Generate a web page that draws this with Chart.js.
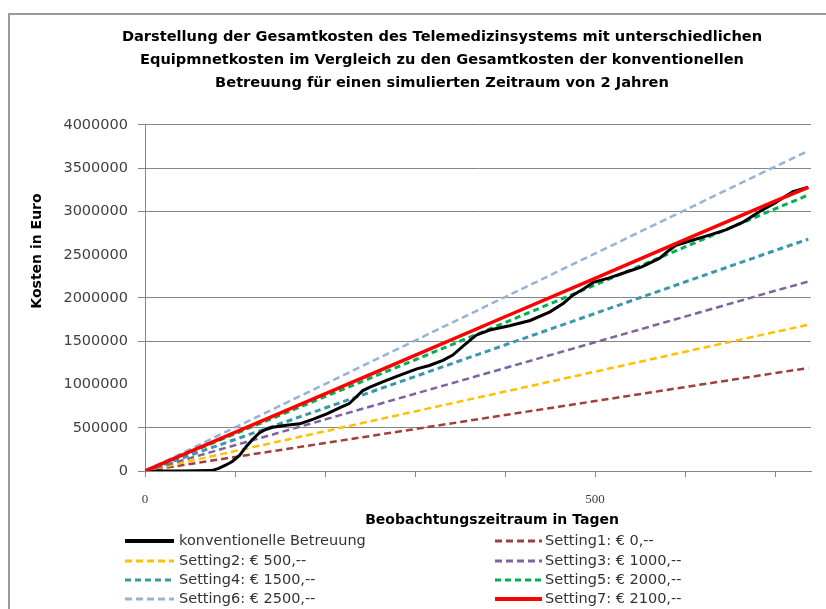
<!DOCTYPE html>
<html>
<head>
<meta charset="utf-8">
<script src="https://cdn.jsdelivr.net/npm/chart.js@4.4.1/dist/chart.umd.min.js"></script>
<style>
  html, body { margin: 0; padding: 0; background: #ffffff; }
  #wrap { width: 826px; height: 609px; }
</style>
</head>
<body>
<div id="wrap"><canvas id="c" width="826" height="609"></canvas></div>
<script>
// ---- data ----
const titleLines = [
  'Darstellung der Gesamtkosten des Telemedizinsystems mit unterschiedlichen',
  'Equipmnetkosten im Vergleich zu den Gesamtkosten der konventionellen',
  'Betreuung für einen simulierten Zeitraum von 2 Jahren'
];
const xAxisTitle = 'Beobachtungszeitraum in Tagen';
const yAxisTitle = 'Kosten in Euro';
const xLabeledTicks = [0, 500];

const seriesNames = [
  'konventionelle Betreuung',
  'Setting1: € 0,--',
  'Setting2: € 500,--',
  'Setting3: € 1000,--',
  'Setting4: € 1500,--',
  'Setting5: € 2000,--',
  'Setting6: € 2500,--',
  'Setting7: € 2100,--'
];

// conventional care (day, cost in Euro)
const convDays  = [0, 40, 74, 82, 90, 97, 105, 113, 120, 127, 134, 142, 157, 172, 187, 202, 216, 227, 234, 242, 250, 264, 279, 302, 316, 331, 342, 354, 368, 383, 405, 428, 450, 465, 475, 488, 498, 515, 535, 552, 572, 582, 590, 609, 628, 646, 665, 683, 700, 720, 737];
const convCosts = [0, 0, 5000, 30000, 70000, 110000, 180000, 290000, 370000, 440000, 480000, 505000, 530000, 545000, 600000, 660000, 730000, 780000, 850000, 930000, 970000, 1030000, 1090000, 1180000, 1220000, 1280000, 1340000, 1450000, 1570000, 1630000, 1680000, 1740000, 1840000, 1940000, 2030000, 2110000, 2180000, 2230000, 2300000, 2360000, 2460000, 2550000, 2610000, 2670000, 2730000, 2790000, 2880000, 3000000, 3100000, 3230000, 3280000];

// telemedicine settings (day, cost in Euro)
const settingDays = [0, 100, 200, 300, 400, 500, 600, 700, 737];
const setting1 = [0, 162000, 323000, 485000, 647000, 808000, 970000, 1132000, 1190000];
const setting2 = [0, 230000, 459000, 689000, 918000, 1148000, 1378000, 1607000, 1690000];
const setting3 = [0, 298000, 595000, 893000, 1190000, 1488000, 1785000, 2083000, 2190000];
const setting4 = [0, 364000, 728000, 1092000, 1457000, 1821000, 2185000, 2549000, 2680000];
const setting5 = [0, 430000, 860000, 1285000, 1715000, 2150000, 2590000, 3030000, 3190000];
const setting6 = [0, 503000, 1005000, 1508000, 2011000, 2514000, 3016000, 3519000, 3700000];
const setting7 = [0, 446000, 891000, 1337000, 1783000, 2228000, 2674000, 3120000, 3280000];

// ---- build ----
function pts(xs, ys) { return xs.map((x, i) => ({ x: x, y: ys[i] })); }

const seriesData = [
  pts(convDays, convCosts),
  pts(settingDays, setting1), pts(settingDays, setting2), pts(settingDays, setting3),
  pts(settingDays, setting4), pts(settingDays, setting5), pts(settingDays, setting6),
  pts(settingDays, setting7)
];
const styles = [
  { c: '#000000', w: 3,   d: [],     o: 1 },
  { c: '#A0403C', w: 2.5, d: [7, 4], o: 8 },
  { c: '#FFC000', w: 2.5, d: [7, 4], o: 7 },
  { c: '#7F62A0', w: 2.5, d: [7, 4], o: 6 },
  { c: '#3A97AE', w: 3,   d: [6, 4], o: 5 },
  { c: '#00B050', w: 3,   d: [6, 4], o: 2 },
  { c: '#95B3D7', w: 2.5, d: [7, 4], o: 4 },
  { c: '#FF0000', w: 3.5, d: [],     o: 0 }
];

const datasets = seriesNames.map((n, i) => ({
  label: n,
  data: seriesData[i],
  borderColor: styles[i].c,
  backgroundColor: styles[i].c,
  borderWidth: styles[i].w,
  borderDash: styles[i].d,
  order: styles[i].o,
  pointRadius: 0,
  tension: 0,
  fill: false
}));

const FONT = "'DejaVu Sans', sans-serif";
const GRID = '#868686';

const framePlugin = {
  id: 'frame',
  afterLayout(chart) {
    // centre the title over the same span as in the reference
    if (chart.titleBlock) {
      chart.titleBlock.left = 73;
      chart.titleBlock.right = 811;
      chart.titleBlock.width = 811 - 73;
    }
  },
  beforeDraw(chart) {
    const ctx = chart.ctx;
    ctx.save();
    ctx.fillStyle = '#ffffff';
    ctx.fillRect(0, 0, chart.width, chart.height);
    ctx.strokeStyle = '#9a9a9a';
    ctx.lineWidth = 2;
    ctx.strokeRect(9, 14, 1000, 1000);
    ctx.restore();
  }
};

const axisTitlePlugin = {
  id: 'axisTitles',
  afterDraw(chart) {
    const ctx = chart.ctx;
    ctx.save();
    ctx.font = "bold 14px " + FONT;
    ctx.fillStyle = '#000000';
    ctx.textAlign = 'center';
    ctx.textBaseline = 'middle';
    ctx.fillText(xAxisTitle, 492, 520);
    ctx.translate(37, 251);
    ctx.rotate(-Math.PI / 2);
    ctx.fillText(yAxisTitle, 0, 0);
    ctx.restore();
  }
};

const legendPlugin = {
  id: 'twoColLegend',
  afterDraw(chart) {
    const ctx = chart.ctx;
    const cols = [{ x0: 125, x1: 174, tx: 179 }, { x0: 495, x1: 542, tx: 545 }];
    const rowY = [541, 561, 580, 599];
    ctx.save();
    chart.data.datasets.forEach((ds, i) => {
      const col = cols[i % 2];
      const y = rowY[Math.floor(i / 2)];
      ctx.beginPath();
      ctx.strokeStyle = ds.borderColor;
      ctx.lineWidth = ds.borderDash.length ? 3 : 4;
      ctx.setLineDash(ds.borderDash);
      ctx.moveTo(col.x0, y);
      ctx.lineTo(col.x1, y);
      ctx.stroke();
      ctx.setLineDash([]);
      ctx.font = "14.5px " + FONT;
      ctx.fillStyle = '#333333';
      ctx.textAlign = 'left';
      ctx.textBaseline = 'middle';
      ctx.fillText(ds.label, col.tx, y);
    });
    ctx.restore();
  }
};

const hiddenGrid = [1000000, 2500000];

new Chart(document.getElementById('c'), {
  type: 'line',
  data: { datasets: datasets },
  plugins: [framePlugin, axisTitlePlugin, legendPlugin],
  options: {
    responsive: false,
    animation: false,
    devicePixelRatio: 1,
    layout: { padding: { left: 55, right: 15, top: 0, bottom: 80 } },
    plugins: {
      legend: { display: false },
      tooltip: { enabled: false },
      title: {
        display: true,
        text: titleLines,
        color: '#000000',
        font: { family: FONT, size: 14.6, weight: 'bold', lineHeight: 1.575 },
        padding: { top: 25.5, bottom: 30.5 }
      }
    },
    scales: {
      x: {
        type: 'linear',
        min: 0,
        max: 740,
        afterFit(scale) { scale.height = 58; },
        border: { display: true, color: GRID, width: 1 },
        grid: { drawOnChartArea: false, drawTicks: true, tickLength: 6, color: GRID },
        ticks: {
          stepSize: 100,
          autoSkip: false,
          includeBounds: false,
          maxRotation: 0,
          padding: 15,
          color: '#404040',
          font: { family: "'Liberation Serif', serif", size: 13 },
          callback: (v) => xLabeledTicks.includes(v) ? String(v) : ''
        },
        title: { display: false }
      },
      y: {
        type: 'linear',
        min: 0,
        max: 4000000,
        afterFit(scale) { scale.width = 90; },
        border: { display: true, color: GRID, width: 1 },
        grid: {
          drawTicks: true,
          tickLength: 7,
          lineWidth: 1,
          color: (c) => (c.tick && hiddenGrid.includes(c.tick.value)) ? 'rgba(0,0,0,0)' : GRID
        },
        ticks: {
          stepSize: 500000,
          padding: 10,
          color: '#404040',
          font: { family: FONT, size: 14.5 },
          callback: (v) => String(v)
        },
        title: { display: false }
      }
    }
  }
});
</script>
</body>
</html>
